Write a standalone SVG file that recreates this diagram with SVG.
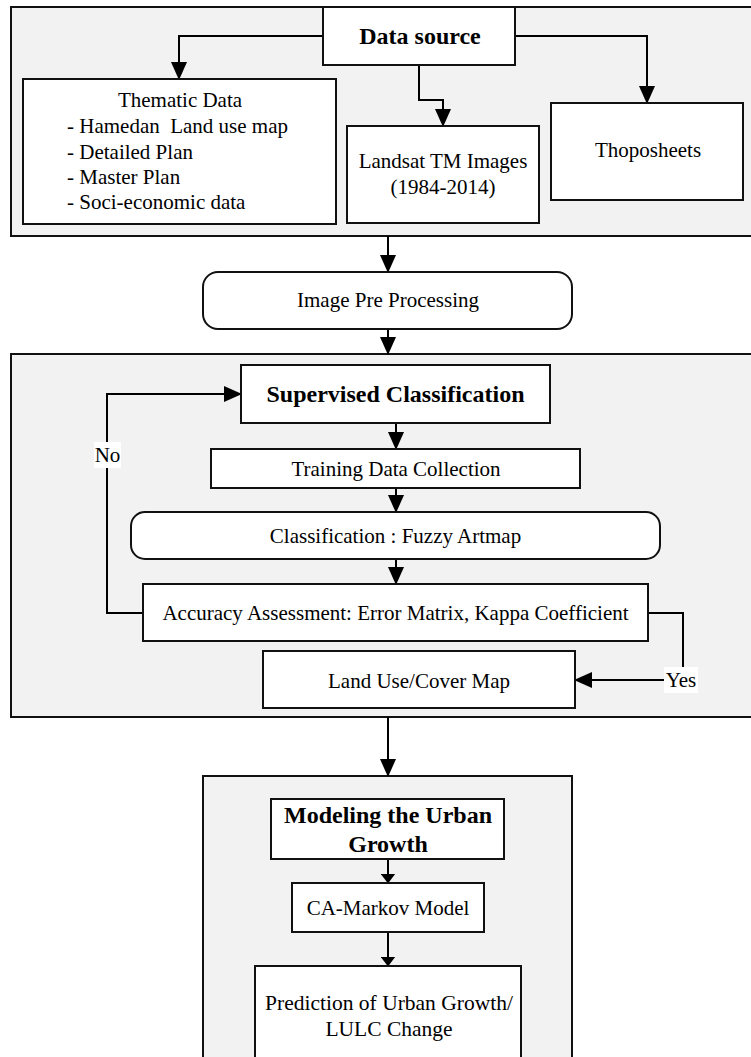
<svg xmlns="http://www.w3.org/2000/svg" width="751" height="1057" viewBox="0 0 751 1057">
<style>
.panel{fill:#f2f2f2;stroke:#111;stroke-width:2}
.box{fill:#fff;stroke:#111;stroke-width:2}
.t{font-family:"Liberation Serif","Times New Roman",serif;font-size:21px;fill:#000;text-anchor:middle}
.b{font-weight:bold;font-size:24px}
.l{text-anchor:start;white-space:pre}
.c{fill:none;stroke:#000;stroke-width:2}
.lbl{fill:#fff;stroke:none}
</style>
<defs>
<marker id="ah" markerUnits="userSpaceOnUse" markerWidth="18" markerHeight="16" viewBox="0 0 18 16" refX="17" refY="8" orient="auto"><path d="M0,0 L18,8 L0,16 z" fill="#000"/></marker>
<marker id="ahs" markerUnits="userSpaceOnUse" markerWidth="10" markerHeight="15" viewBox="0 0 10 15" refX="9.5" refY="7.5" orient="auto"><path d="M0,0 L10,7.5 L0,15 z" fill="#000"/></marker>
</defs>
<g id="panel-data">
<rect class="panel" x="11" y="7" width="760" height="229"/>
</g>
<g id="panel-classification">
<rect class="panel" x="11" y="354" width="760" height="363"/>
</g>
<g id="panel-modeling">
<rect class="panel" x="203" y="776" width="369" height="300"/>
</g>
<g id="connectors">
<path class="c" d="M323,36 H179 V79" marker-end="url(#ah)"/>
<path class="c" d="M419,65 V100 H443 V126" marker-end="url(#ah)"/>
<path class="c" d="M515,36 H647 V103" marker-end="url(#ah)"/>
<path class="c" d="M388,236 V272" marker-end="url(#ah)"/>
<path class="c" d="M388,329 V354" marker-end="url(#ah)"/>
<path class="c" d="M396,423 V449" marker-end="url(#ah)"/>
<path class="c" d="M396,488 V512" marker-end="url(#ah)"/>
<path class="c" d="M396,559 V584" marker-end="url(#ah)"/>
<path class="c" d="M143,613 H107 V394 H241" marker-end="url(#ah)"/>
<path class="c" d="M648,613 H683 V680 H575" marker-end="url(#ah)"/>
<path class="c" d="M388,717 V776" marker-end="url(#ah)"/>
<path class="c" d="M388,859 V883" marker-end="url(#ahs)"/>
<path class="c" d="M388,932 V966" marker-end="url(#ahs)"/>
<rect class="lbl" x="94" y="442" width="27" height="26"/>
<text class="t" x="107.5" y="462">No</text>
<rect class="lbl" x="664" y="667" width="34" height="26"/>
<text class="t" x="681" y="687">Yes</text>
</g>
<g id="data-source">
<rect class="box" x="323" y="7" width="192" height="58"/>
<text class="t b" x="420" y="44">Data source</text>
</g>
<g id="thematic-data">
<rect class="box" x="23" y="79" width="313" height="145"/>
<text class="t" x="180" y="107">Thematic Data</text>
<text class="t l" x="67" y="133" xml:space="preserve">- Hamedan  Land use map</text>
<text class="t l" x="67" y="159">- Detailed Plan</text>
<text class="t l" x="67" y="184">- Master Plan</text>
<text class="t l" x="67" y="209">- Soci-economic data</text>
</g>
<g id="landsat">
<rect class="box" x="347" y="126" width="192" height="97"/>
<text class="t" x="443" y="168">Landsat TM Images</text>
<text class="t" x="443" y="194">(1984-2014)</text>
</g>
<g id="thoposheets">
<rect class="box" x="551" y="103" width="192" height="97"/>
<text class="t" x="648" y="157">Thoposheets</text>
</g>
<g id="image-pre-processing">
<rect class="box" x="203" y="272" width="369" height="57" rx="15" ry="15"/>
<text class="t" x="388" y="307">Image Pre Processing</text>
</g>
<g id="supervised-classification">
<rect class="box" x="241" y="365" width="309" height="58"/>
<text class="t b" x="395.5" y="402">Supervised Classification</text>
</g>
<g id="training-data">
<rect class="box" x="211" y="449" width="369" height="39"/>
<text class="t" x="396" y="476">Training Data Collection</text>
</g>
<g id="fuzzy-artmap">
<rect class="box" x="131" y="512" width="529" height="47" rx="14" ry="14"/>
<text class="t" x="395.5" y="543">Classification : Fuzzy Artmap</text>
</g>
<g id="accuracy-assessment">
<rect class="box" x="143" y="584" width="505" height="57"/>
<text class="t" x="395.5" y="620">Accuracy Assessment: Error Matrix, Kappa Coefficient</text>
</g>
<g id="land-use-map">
<rect class="box" x="263" y="651" width="312" height="57"/>
<text class="t" x="419" y="688">Land Use/Cover Map</text>
</g>
<g id="modeling-urban-growth">
<rect class="box" x="271" y="799" width="233" height="60"/>
<text class="t b" x="388" y="823">Modeling the Urban</text>
<text class="t b" x="388" y="852">Growth</text>
</g>
<g id="ca-markov">
<rect class="box" x="292" y="883" width="192" height="49"/>
<text class="t" x="388" y="915">CA-Markov Model</text>
</g>
<g id="prediction">
<rect class="box" x="255" y="966" width="266" height="110"/>
<text class="t" x="389" y="1010" style="font-size:21.5px">Prediction of Urban Growth/</text>
<text class="t" x="389" y="1036" style="font-size:21.5px">LULC Change</text>
</g>
</svg>
